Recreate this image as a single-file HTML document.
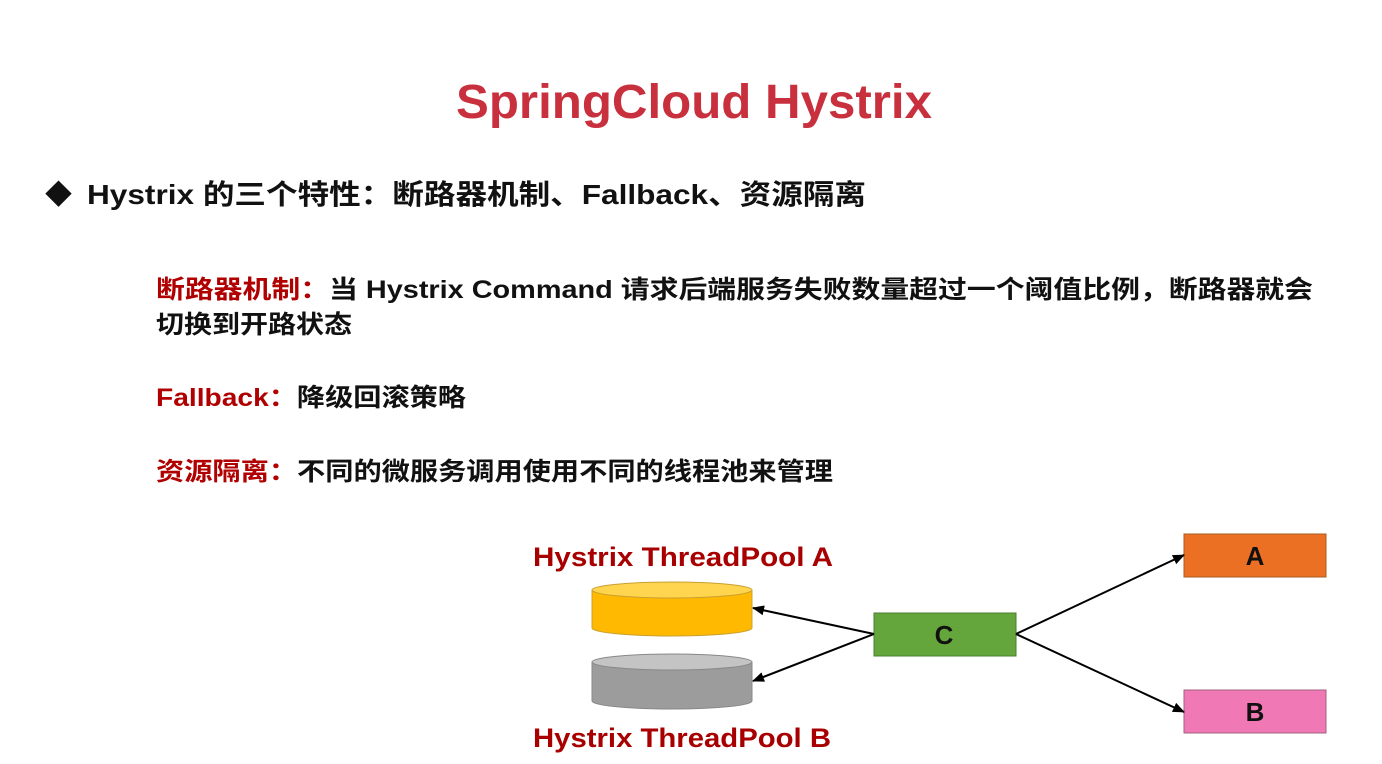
<!DOCTYPE html>
<html><head><meta charset="utf-8"><style>
html,body{margin:0;padding:0;background:#fff;}
svg{display:block;}
text{font-family:"Liberation Sans","Noto Sans CJK SC",sans-serif;font-weight:bold;}
</style></head><body>
<svg width="1382" height="764" viewBox="0 0 1382 764" xmlns="http://www.w3.org/2000/svg">
<defs>
<marker id="ar" markerWidth="12" markerHeight="10" refX="11" refY="5" orient="auto" markerUnits="userSpaceOnUse">
<path d="M0,0 L12,5 L0,10 z" fill="#000"/></marker>
</defs>
<rect width="1382" height="764" fill="#fff"/>
<text x="456" y="118" font-size="48" fill="#c9303e" textLength="476" lengthAdjust="spacingAndGlyphs">SpringCloud Hystrix</text>
<text x="45" y="204" font-size="27" fill="#111">◆</text>
<text x="87" y="204" font-size="28" fill="#111" textLength="779" lengthAdjust="spacingAndGlyphs">Hystrix 的三个特性：断路器机制、Fallback、资源隔离</text>
<text x="156" y="298" font-size="25" textLength="1157" lengthAdjust="spacingAndGlyphs"><tspan fill="#b00000">断路器机制：</tspan><tspan fill="#111">当 Hystrix Command 请求后端服务失败数量超过一个阈值比例，断路器就会</tspan></text>
<text x="156" y="333" font-size="25" fill="#111" textLength="196" lengthAdjust="spacingAndGlyphs">切换到开路状态</text>
<text x="156" y="406" font-size="25" textLength="310" lengthAdjust="spacingAndGlyphs"><tspan fill="#b00000">Fallback：</tspan><tspan fill="#111">降级回滚策略</tspan></text>
<text x="156" y="480" font-size="25" textLength="677" lengthAdjust="spacingAndGlyphs"><tspan fill="#b00000">资源隔离：</tspan><tspan fill="#111">不同的微服务调用使用不同的线程池来管理</tspan></text>
<text x="533" y="566" font-size="27" fill="#a80000" textLength="300" lengthAdjust="spacingAndGlyphs">Hystrix ThreadPool A</text>
<text x="533" y="747" font-size="27" fill="#a80000" textLength="298" lengthAdjust="spacingAndGlyphs">Hystrix ThreadPool B</text>
<path d="M592,590 L592,628 A80,8 0 0 0 752,628 L752,590 Z" fill="#ffb900" stroke="#c8a030" stroke-width="1"/>
<ellipse cx="672" cy="590" rx="80" ry="8" fill="#ffd54f" stroke="#c8a030" stroke-width="1"/>
<path d="M592,662 L592,701 A80,8 0 0 0 752,701 L752,662 Z" fill="#9c9c9c" stroke="#888" stroke-width="1"/>
<ellipse cx="672" cy="662" rx="80" ry="8" fill="#c4c4c4" stroke="#888" stroke-width="1"/>
<rect x="874" y="613" width="142" height="43" fill="#64a63c" stroke="#4a7d2c"/>
<text x="944" y="644" font-size="26" fill="#111" text-anchor="middle">C</text>
<rect x="1184" y="534" width="142" height="43" fill="#ec7023" stroke="#a85a20"/>
<text x="1255" y="565" font-size="26" fill="#111" text-anchor="middle">A</text>
<rect x="1184" y="690" width="142" height="43" fill="#f078b4" stroke="#a0607f"/>
<text x="1255" y="721" font-size="26" fill="#111" text-anchor="middle">B</text>
<g stroke="#000" stroke-width="2" fill="none">
<line x1="874" y1="634" x2="753" y2="608" marker-end="url(#ar)"/>
<line x1="874" y1="634" x2="753" y2="681" marker-end="url(#ar)"/>
<line x1="1016" y1="634" x2="1184" y2="555" marker-end="url(#ar)"/>
<line x1="1016" y1="634" x2="1184" y2="712" marker-end="url(#ar)"/>
</g>
</svg>
</body></html>
